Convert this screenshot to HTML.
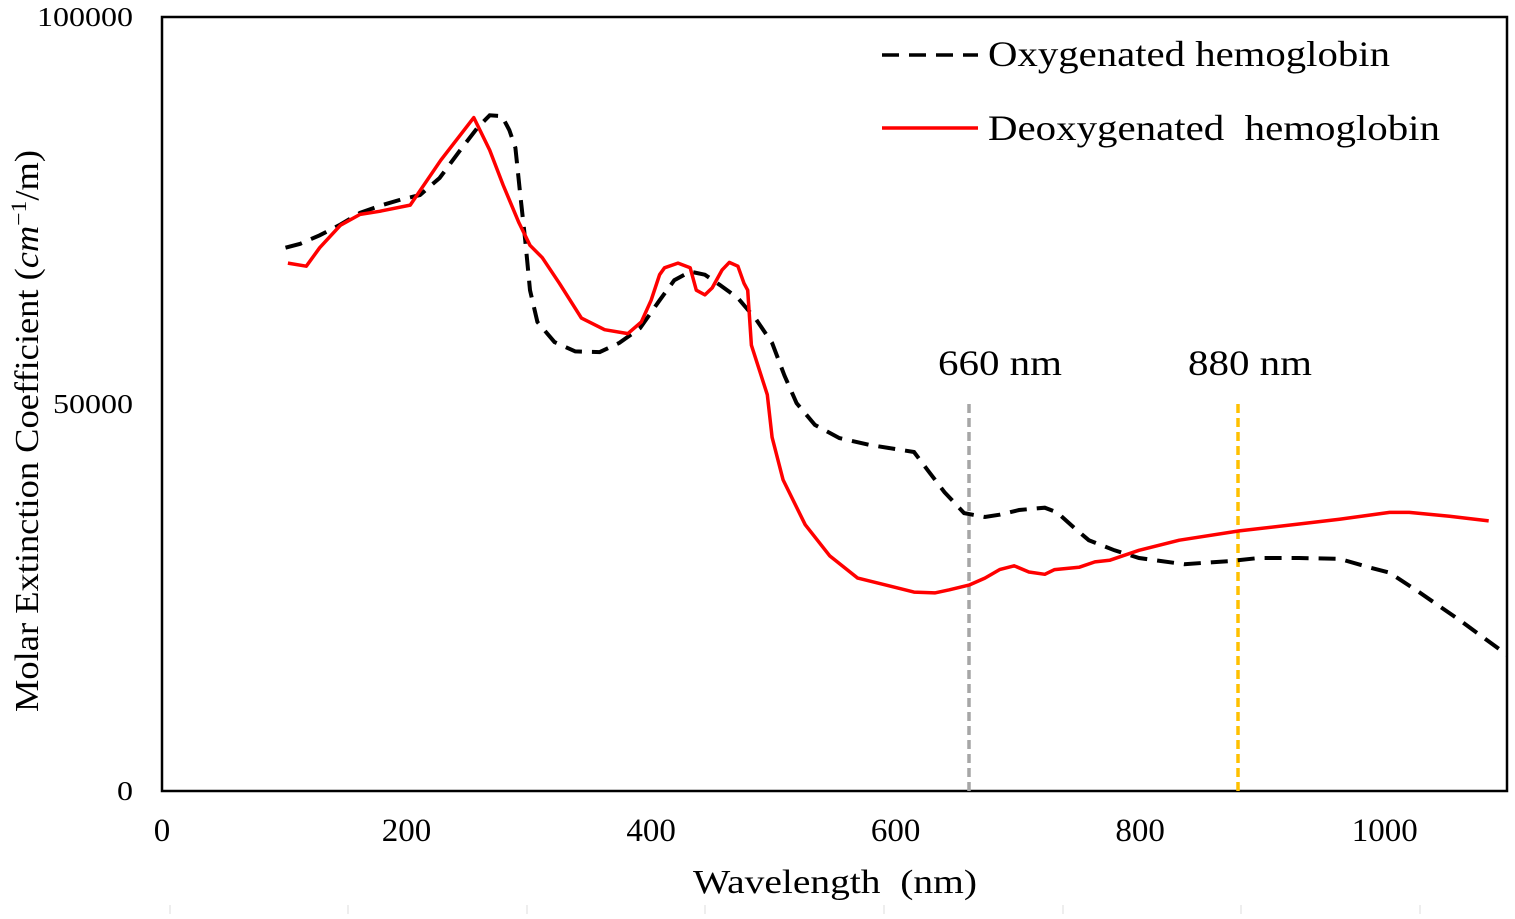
<!DOCTYPE html>
<html><head><meta charset="utf-8"><style>
body{margin:0;background:#fff;}
svg text{font-family:"Liberation Serif",serif;}
</style></head><body>
<svg id="chart" width="1515" height="914">
<rect x="162" y="17" width="1345" height="774" fill="none" stroke="#000" stroke-width="2.5"/>
<g id="axes"></g>
<g id="marks"></g>
<g>
<line x1="882" y1="55" x2="978" y2="55" stroke="#000" stroke-width="3.5" stroke-dasharray="17,10"/>
<text x="988" y="66" font-size="36" textLength="402" lengthAdjust="spacingAndGlyphs">Oxygenated hemoglobin</text>
<line x1="882" y1="128" x2="978" y2="128" stroke="#f00" stroke-width="3.5"/>
<text x="988" y="140" font-size="36" textLength="452" lengthAdjust="spacingAndGlyphs" xml:space="preserve">Deoxygenated  hemoglobin</text>
</g>
<text x="693" y="893" font-size="34" textLength="284" lengthAdjust="spacingAndGlyphs" xml:space="preserve">Wavelength  (nm)</text>
<text transform="translate(38,712) rotate(-90)" font-size="34" textLength="562" lengthAdjust="spacingAndGlyphs">Molar Extinction Coefficient (<tspan font-style="italic">cm</tspan><tspan dy="-12" font-size="22">−1</tspan><tspan dy="12">/m)</tspan></text>
</svg>
<script>
const xTicks=[0,200,400,600,800,1000];
const yTicks=[0,50000,100000];
const oxyX=[101,113,129,145,162,178,195,211,227,244,258,268,278,284,289,293,297,301,307,321,338,358,374,391,407,419,432,444,456,471,486,499,509,519,534,554,579,599,615,626,640,656,673,685,701,722,732,746,758,779,799,836,873,897,930,963,987,1004,1028,1061,1100];
const oxyY=[70200,70700,71800,73100,74700,75600,76400,77000,79200,82800,85700,87300,87200,85400,83100,77000,71200,64700,60600,58000,56800,56700,57900,59800,63400,66000,67100,66700,65400,63700,60900,57900,53700,50100,47300,45600,44700,44200,43800,41500,38600,35900,35400,35700,36300,36600,36000,34000,32400,31100,30100,29300,29700,30100,30100,30000,28900,28200,25700,22100,17600];
const deoxyX=[103,118,129,146,162,178,203,228,255,268,279,292,301,311,325,343,362,381,392,400,407,411,422,432,437,444,450,458,464,471,476,479,482,490,495,499,508,526,546,569,595,615,632,644,660,673,685,697,709,722,730,750,763,775,799,832,881,930,963,1004,1020,1053,1085];
const deoxyY=[68200,67800,70200,73100,74500,74900,75700,81500,87000,82800,78300,73400,70500,68900,65600,61100,59600,59100,60600,63400,66700,67600,68200,67600,64700,64100,65000,67300,68300,67800,65600,64700,57600,53700,51200,45700,40200,34400,30400,27500,26500,25700,25600,26000,26600,27500,28600,29100,28300,28000,28600,28900,29600,29800,31100,32400,33600,34500,35100,36000,36000,35500,34900];
const markers=[660,880];
const markerLabels=["660 nm","880 nm"];
const markerColors=["#a6a6a6","#ffc000"];
const markerTop=50000;

const NS="http://www.w3.org/2000/svg";
const X0=162,X1=1507,Y0=791,Y1=17;
function sx(v){return X0+(v/1100)*(X1-X0);}
function sy(v){return Y0-(v/100000)*(Y0-Y1);}
const axes=document.getElementById('axes'),marks=document.getElementById('marks');
function mk(tag,attrs,parent){const e=document.createElementNS(NS,tag);for(const k in attrs)e.setAttribute(k,attrs[k]);parent.appendChild(e);return e;}
xTicks.forEach(t=>{
 const e=mk('text',{x:sx(t),y:841,'font-size':33,'text-anchor':'middle'},axes);
 e.textContent=t;
 
 
});
yTicks.forEach(t=>{
 const w=String(t).length*16;
 const e=mk('text',{x:133-w,y:sy(t)+9,'font-size':27,textLength:w,lengthAdjust:'spacingAndGlyphs'},axes);
 e.textContent=t;
 
 
});
[170,348,527,705,884,1063,1241,1420].forEach(px=>{
 const e=mk('line',{x1:px,y1:905,x2:px,y2:914,stroke:'#ddd','stroke-width':1},axes);
 
 
});
const labelX=[938,1188];
markers.forEach((m,i)=>{
 const l=mk('line',{x1:sx(m),y1:sy(markerTop),x2:sx(m),y2:Y0,stroke:markerColors[i],'stroke-width':3.5,'stroke-dasharray':'9,5'},marks);
 
 
 const t=mk('text',{x:labelX[i],y:375,'font-size':36,textLength:124,lengthAdjust:'spacingAndGlyphs'},marks);
 t.textContent=markerLabels[i];
 
 
});
function pts(xs,ys){return xs.map((x,i)=>sx(x).toFixed(1)+','+sy(ys[i]).toFixed(1)).join(' ');}
const o=mk('polyline',{points:pts(oxyX,oxyY),fill:'none',stroke:'#000','stroke-width':4,'stroke-dasharray':'17,10'},marks);


const d=mk('polyline',{points:pts(deoxyX,deoxyY),fill:'none',stroke:'#f00','stroke-width':3.5,'stroke-linejoin':'round'},marks);


</script>
</body></html>
